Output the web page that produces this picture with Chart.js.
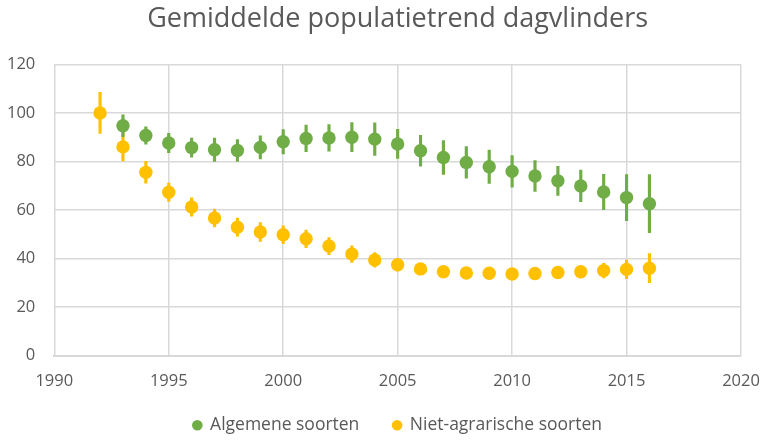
<!DOCTYPE html>
<html>
<head>
<meta charset="utf-8">
<script src="https://cdn.jsdelivr.net/npm/chart.js@4/dist/chart.umd.min.js"></script>
<style>
html, body { margin: 0; padding: 0; background: #fff; }
#wrap { width: 770px; height: 443px; }
</style>
</head>
<body>
<div id="wrap"><canvas id="grafiek"></canvas></div>
<script>
// Gemiddelde populatietrend dagvlinders (index, 1992 = 100)
var jaren_alg = [1993, 1994, 1995, 1996, 1997, 1998, 1999, 2000, 2001, 2002, 2003, 2004,
	2005, 2006, 2007, 2008, 2009, 2010, 2011, 2012, 2013, 2014, 2015, 2016];
var algemeen = [94.7, 90.7, 87.6, 85.7, 84.8, 84.5, 85.8, 88.1, 89.5, 89.7, 90.0, 89.2,
	87.2, 84.4, 81.6, 79.6, 77.8, 75.9, 74.0, 72.0, 69.9, 67.4, 65.1, 62.6];
var algemeen_fout = [4.5, 3.6, 4.0, 3.9, 4.8, 4.5, 4.8, 5.0, 5.5, 5.5, 6.0, 6.7,
	6.0, 6.4, 7.0, 6.5, 6.9, 6.5, 6.4, 6.0, 6.5, 7.3, 9.5, 12.0];

var jaren_niet = [1992, 1993, 1994, 1995, 1996, 1997, 1998, 1999, 2000, 2001, 2002, 2003,
	2004, 2005, 2006, 2007, 2008, 2009, 2010, 2011, 2012, 2013, 2014, 2015, 2016];
var niet_agrarisch = [100, 86.0, 75.5, 67.3, 61.2, 56.7, 52.9, 50.9, 49.8, 48.1, 45.1, 41.8,
	39.4, 37.4, 35.7, 34.5, 34.0, 33.9, 33.6, 33.8, 34.2, 34.5, 35.0, 35.5, 36.0];
var niet_fout = [8.5, 5.8, 4.5, 3.8, 3.8, 3.7, 3.7, 3.9, 3.7, 3.6, 3.5, 3.4,
	3.0, 2.5, 2.0, 2.0, 2.0, 2.0, 2.0, 2.0, 2.2, 2.5, 3.0, 3.8, 6.0];

var x_ticks = [1990, 1995, 2000, 2005, 2010, 2015, 2020];
var y_ticks = [0, 20, 40, 60, 80, 100, 120];

var groen = '#70AD47';
var geel = '#FFC000';
var grijs = '#595959';
var lijn = '#D9D9D9';
var lettertype = "'Open Sans', sans-serif";

function punten(jaren, waarden) {
	var uit = [];
	for (var i = 0; i < jaren.length; i++) {
		uit.push({ x: jaren[i], y: waarden[i] });
	}
	return uit;
}

function foutbalken(jaren, waarden, fout) {
	var uit = [];
	for (var i = 0; i < jaren.length; i++) {
		uit.push({ x: jaren[i], y: [waarden[i] - fout[i], waarden[i] + fout[i]] });
	}
	return uit;
}

var config = {
	type: 'scatter',
	data: {
		datasets: [{
			label: 'Algemene soorten',
			data: punten(jaren_alg, algemeen),
			backgroundColor: groen,
			borderColor: groen,
			pointRadius: 6.7,
			pointHoverRadius: 6.7,
			borderWidth: 0,
			order: 0
		}, {
			label: 'Niet-agrarische soorten',
			data: punten(jaren_niet, niet_agrarisch),
			backgroundColor: geel,
			borderColor: geel,
			pointRadius: 6.7,
			pointHoverRadius: 6.7,
			borderWidth: 0,
			order: 1
		}, {
			type: 'bar',
			label: 'fout_alg',
			data: foutbalken(jaren_alg, algemeen, algemeen_fout),
			backgroundColor: groen,
			borderWidth: 0,
			barThickness: 2.5,
			grouped: false,
			order: 2
		}, {
			type: 'bar',
			label: 'fout_niet',
			data: foutbalken(jaren_niet, niet_agrarisch, niet_fout),
			backgroundColor: geel,
			borderWidth: 0,
			barThickness: 2.5,
			grouped: false,
			order: 3
		}]
	},
	options: {
		responsive: true,
		maintainAspectRatio: false,
		animation: false,
		layout: { padding: { left: 0, right: 0, top: 3, bottom: -1 } },
		plugins: {
			title: {
				display: true,
				fullSize: false,
				text: 'Gemiddelde populatietrend dagvlinders',
				color: grijs,
				font: { family: lettertype, size: 27, weight: 'normal' },
				padding: { top: 0, bottom: 29 }
			},
			legend: {
				position: 'bottom',
				fullSize: false,
				labels: {
					color: grijs,
					font: { family: lettertype, size: 17.5 },
					usePointStyle: true,
					pointStyle: 'circle',
					boxWidth: 8,
					boxHeight: 7.5,
					padding: 25,
					generateLabels: function (chart) {
						var items = Chart.defaults.plugins.legend.labels.generateLabels(chart);
						items = items.filter(function (item) {
							return item.text.indexOf('fout') !== 0;
						});
						items[0].text += '\u2002';
						return items;
					}
				}
			},
			tooltip: { enabled: false }
		},
		scales: {
			x: {
				type: 'linear',
				min: 1990,
				max: 2020,
				offset: false,
				afterBuildTicks: function (as) {
					as.ticks = x_ticks.map(function (v) { return { value: v }; });
				},
				afterFit: function (as) {
					as.height = 36;
					as.paddingRight = 29;
				},
				ticks: {
					color: grijs,
					font: { family: lettertype, size: 16.5 },
					padding: 16,
					callback: function (v) { return String(v); }
				},
				grid: { color: lijn, lineWidth: 1.5, drawTicks: false, offset: false },
				border: { color: lijn, width: 2 }
			},
			y: {
				min: 0,
				max: 120,
				afterBuildTicks: function (as) {
					as.ticks = y_ticks.map(function (v) { return { value: v }; });
				},
				afterFit: function (as) {
					as.width = 54.3;
				},
				ticks: {
					color: grijs,
					font: { family: lettertype, size: 16.5 },
					padding: 19
				},
				grid: { color: lijn, lineWidth: 1.5, drawTicks: false },
				border: { display: false }
			}
		}
	}
};

var ctx = document.getElementById('grafiek').getContext('2d');
window.grafiek = new Chart(ctx, config);
</script>
</body>
</html>
